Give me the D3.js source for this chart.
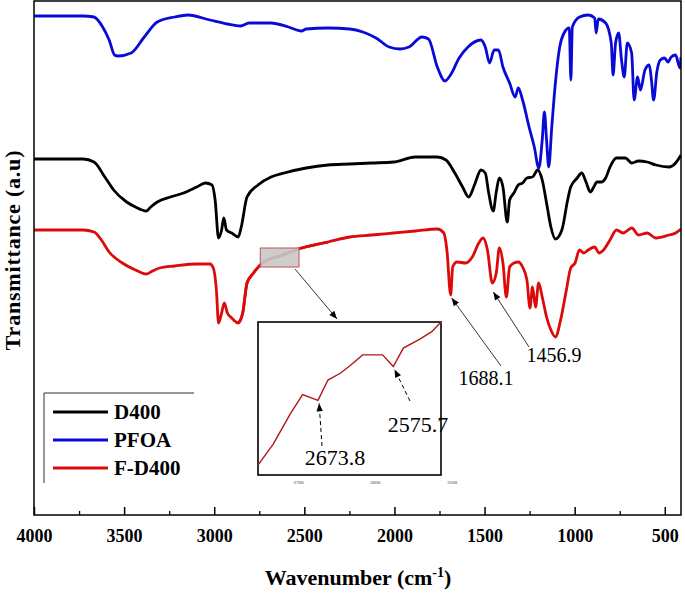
<!DOCTYPE html>
<html><head><meta charset="utf-8">
<script src="https://cdn.jsdelivr.net/npm/d3@7/dist/d3.min.js"></script>
<style>body{margin:0;background:#fff}svg{display:block}</style>
</head><body>
<svg id="c" width="685" height="593"></svg>
<script>
// ---- data (wavenumber cm-1, transmittance a.u., offset-stacked) ----
const seriesNames = ["D400", "PFOA", "F-D400"];
const seriesColors = ["#000000", "#0a0ad8", "#dd0a0a"];

const pfoa = [[4000,499],[3728,499],[3667,498],[3619,488],[3583,475],[3553,460],[3534,459],[3461,462],[3388,478],[3316,493],[3219,498],[3146,500],[3024,495],[2927,491],[2854,489],[2806,492],[2685,492],[2588,488],[2515,484],[2490,486],[2369,487],[2248,486],[2175,483],[2102,477],[2029,468],[1969,466],[1920,468],[1847,478],[1811,476],[1762,448],[1719,434],[1689,440],[1641,457],[1592,468],[1520,475],[1496,468],[1472,452],[1447,465],[1423,465],[1398,448],[1361,432],[1330,418],[1313,427],[1289,415],[1253,388],[1224,368],[1199,347],[1180,375],[1168,403],[1156,375],[1144,348],[1127,388],[1107,432],[1083,468],[1059,482],[1030,487],[1021,435],[1013,488],[973,498],[925,500],[889,497],[881,482],[869,496],[828,492],[797,472],[787,440],[773,472],[756,482],[740,455],[725,438],[708,472],[684,462],[670,415],[651,438],[635,425],[610,445],[586,450],[574,435],[562,415],[544,443],[525,455],[501,457],[482,453],[464,458],[440,460],[416,447],[410,458]];

const d400 = [[4000,356],[3728,356],[3667,353],[3607,338],[3558,325],[3486,313],[3437,308],[3376,304],[3352,308],[3316,313],[3243,318],[3170,322],[3097,328],[3049,332],[3012,330],[2995,315],[2976,277],[2959,285],[2947,297],[2932,285],[2903,282],[2867,278],[2850,288],[2818,318],[2757,330],[2685,338],[2612,342],[2490,347],[2369,350],[2248,351],[2126,352],[2005,353],[1884,358],[1762,358],[1714,355],[1665,342],[1622,328],[1588,318],[1556,330],[1520,345],[1496,342],[1477,322],[1452,304],[1435,323],[1418,337],[1398,328],[1374,293],[1361,315],[1337,322],[1313,330],[1289,332],[1265,337],[1234,338],[1205,345],[1180,335],[1156,312],[1132,288],[1107,276],[1071,285],[1039,315],[1022,328],[986,337],[961,342],[937,333],[913,323],[894,328],[876,333],[852,333],[828,337],[804,348],[768,357],[719,357],[683,352],[646,354],[598,353],[549,350],[476,348],[440,352],[410,360]];

const fd400 = [[4000,285],[3728,285],[3667,283],[3626,275],[3583,263],[3510,252],[3437,245],[3376,241],[3352,243],[3303,247],[3219,249],[3097,251],[3024,251],[3005,247],[2988,225],[2976,192],[2959,202],[2944,212],[2927,202],[2903,197],[2867,192],[2842,202],[2818,232],[2782,242],[2733,252],[2636,259],[2515,267],[2369,273],[2248,278],[2126,280],[2005,282],[1884,284],[1762,286],[1726,282],[1709,265],[1688,220],[1677,248],[1653,253],[1605,252],[1568,258],[1532,272],[1508,277],[1484,265],[1457,232],[1435,242],[1418,267],[1398,252],[1379,218],[1361,248],[1337,252],[1313,253],[1289,248],[1265,235],[1248,207],[1234,228],[1217,208],[1200,232],[1180,218],[1156,198],[1132,185],[1107,178],[1078,195],[1046,225],[1022,247],[998,252],[973,265],[949,262],[925,265],[889,268],[865,262],[840,265],[804,275],[768,285],[731,282],[683,287],[646,280],[598,282],[549,277],[476,280],[440,282],[410,286]];

const xTicks = [4000, 3500, 3000, 2500, 2000, 1500, 1000, 500];
const xMinorTicks = [3750, 3250, 2750, 2250, 1750, 1250, 750];

// inset (zoom of F-D400 between ~2750 and ~2515 cm-1)
const insetData = [[2752,5],[2732,27],[2710,58],[2694,78],[2674,72],[2661,93],[2645,100],[2632,108],[2616,119],[2590,119],[2576,107],[2563,126],[2542,135],[2526,143],[2514,153]];
const insetTicks = [2700, 2600, 2500];
const insetPeaks = [{label: "2673.8", wn: 2673.8, v: 72}, {label: "2575.7", wn: 2575.7, v: 107}];
const mainPeaks = [{label: "1688.1", wn: 1688.1, v: 220}, {label: "1456.9", wn: 1456.9, v: 232}];

// ---- drawing ----
const svg = d3.select("#c");
const m = {left: 34, right: 681, top: 1, bottom: 515};
const serif = "'Liberation Serif','Times New Roman',serif";

const x = d3.scaleLinear().domain([4000, 410]).range([m.left, m.right]);
const y = d3.scaleLinear().domain([0, 514]).range([m.bottom, m.top]);

const defs = svg.append("defs");
defs.append("marker").attr("id", "ah").attr("viewBox", "0 -5 10 10")
  .attr("refX", 10).attr("refY", 0).attr("markerWidth", 10).attr("markerHeight", 8)
  .attr("markerUnits", "userSpaceOnUse").attr("orient", "auto")
  .append("path").attr("d", "M0,-4L10,0L0,4Z").attr("fill", "#000");
defs.append("clipPath").attr("id", "clipMain").append("rect")
  .attr("x", m.left).attr("y", m.top).attr("width", m.right - m.left).attr("height", m.bottom - m.top);

const line = d3.line().x(d => x(d[0])).y(d => y(d[1])).curve(d3.curveMonotoneX);

const gPlot = svg.append("g").attr("clip-path", "url(#clipMain)");
const data = [d400, pfoa, fd400];
[1, 0, 2].forEach(i => {
  gPlot.append("path").datum(data[i]).attr("d", line)
    .attr("fill", "none").attr("stroke", seriesColors[i]).attr("stroke-width", 2.8)
    .attr("stroke-linejoin", "round");
});

// highlight rect on F-D400
const hx0 = 2750, hx1 = 2535;
svg.append("rect").attr("x", x(hx0) + 1).attr("y", 248).attr("width", x(hx1) - x(hx0)).attr("height", 19)
  .attr("fill", "#c8c8c8").attr("fill-opacity", 0.9).attr("stroke", "#c85050").attr("stroke-width", 1);
gPlot.append("path").datum(fd400.filter(d => d[0] <= 2900 && d[0] >= 2300)).attr("d", line)
  .attr("fill", "none").attr("stroke", seriesColors[2]).attr("stroke-width", 2.8);

// frame
svg.append("rect").attr("x", m.left).attr("y", m.top).attr("width", m.right - m.left)
  .attr("height", m.bottom - m.top).attr("fill", "none").attr("stroke", "#000").attr("stroke-width", 1.5);

// bottom axis
const xAxis = d3.axisBottom(x).tickValues(xTicks).tickFormat(d3.format("d"))
  .tickSizeInner(-8).tickSizeOuter(0).tickPadding(14);
const gx = svg.append("g").attr("transform", `translate(0,${m.bottom})`).call(xAxis);
gx.select(".domain").remove();
gx.selectAll(".tick line").attr("stroke", "#000").attr("stroke-width", 1.5);
gx.selectAll(".tick text").attr("font-family", serif).attr("font-weight", "bold")
  .attr("font-size", 18).attr("fill", "#000");
const gxm = svg.append("g").attr("transform", `translate(0,${m.bottom})`)
  .call(d3.axisBottom(x).tickValues(xMinorTicks).tickSizeInner(-4).tickSizeOuter(0).tickFormat(""));
gxm.select(".domain").remove();
gxm.selectAll(".tick line").attr("stroke", "#000").attr("stroke-width", 1.3);

// axis titles
const xt = svg.append("text").attr("x", 358).attr("y", 585).attr("text-anchor", "middle")
  .attr("font-family", serif).attr("font-weight", "bold").attr("font-size", 22).attr("fill", "#000");
xt.append("tspan").text("Wavenumber (cm");
xt.append("tspan").attr("dy", -8).attr("font-size", 14).text("-1");
xt.append("tspan").attr("dy", 8).text(")");

svg.append("text").attr("transform", "translate(20,250) rotate(-90)").attr("text-anchor", "middle")
  .attr("font-family", serif).attr("font-weight", "bold").attr("font-size", 22).attr("letter-spacing", 0.8)
  .attr("fill", "#000").text("Transmittance (a.u)");

// legend
const lg = svg.append("g");
lg.append("path").attr("d", "M44,483V393H194").attr("fill", "none").attr("stroke", "#333").attr("stroke-width", 1);
[0, 1, 2].forEach((si, k) => {
  const yy = 412 + k * 28;
  lg.append("line").attr("x1", 53).attr("x2", 108).attr("y1", yy).attr("y2", yy)
    .attr("stroke", seriesColors[si]).attr("stroke-width", 3);
  lg.append("text").attr("x", 114).attr("y", yy + 7).attr("font-family", serif).attr("font-weight", "bold")
    .attr("font-size", 21).attr("fill", "#000").text(seriesNames[si]);
});

// main peak annotations
const mainLabelPos = [[486, 385], [554, 362]];
const mainArrowStart = [[501, 366], [529, 347]];
mainPeaks.forEach((p, i) => {
  const [sx, sy] = mainArrowStart[i];
  svg.append("line").attr("x1", sx).attr("y1", sy).attr("x2", x(p.wn) + 1).attr("y2", y(p.v) + 3 + i * 6)
    .attr("stroke", "#000").attr("stroke-width", 0.8).attr("marker-end", "url(#ah)");
  svg.append("text").attr("x", mainLabelPos[i][0]).attr("y", mainLabelPos[i][1]).attr("text-anchor", "middle")
    .attr("font-family", serif).attr("font-size", 20).attr("fill", "#000").text(p.label);
});

// arrow from highlight to inset
svg.append("line").attr("x1", 295).attr("y1", 269).attr("x2", 337).attr("y2", 319)
  .attr("stroke", "#000").attr("stroke-width", 0.8).attr("marker-end", "url(#ah)");

// inset
const ib = {left: 258, right: 441, top: 322, bottom: 475};
const xi = d3.scaleLinear().domain([2752, 2514]).range([ib.left, ib.right]);
const yi = d3.scaleLinear().domain([0, 153]).range([ib.bottom - 5, ib.top]);
svg.append("rect").attr("x", ib.left).attr("y", ib.top).attr("width", ib.right - ib.left)
  .attr("height", ib.bottom - ib.top).attr("fill", "#fff").attr("stroke", "#000").attr("stroke-width", 1.6);
svg.append("path").datum(insetData)
  .attr("d", d3.line().x(d => xi(d[0])).y(d => yi(d[1])))
  .attr("fill", "none").attr("stroke", "#b01818").attr("stroke-width", 1.4);
const gi = svg.append("g").attr("transform", `translate(0,${ib.bottom})`)
  .call(d3.axisBottom(xi).tickValues(insetTicks).tickFormat(d3.format("d")).tickSizeInner(0).tickSizeOuter(0).tickPadding(5));
gi.select(".domain").remove();
gi.selectAll(".tick text").attr("font-family", serif).attr("font-size", 5).attr("fill", "#333");

const insetLabelPos = [[335, 465], [418, 432]];
const insetArrowStart = [[322, 446], [410, 401]];
insetPeaks.forEach((p, i) => {
  const [sx, sy] = insetArrowStart[i];
  svg.append("line").attr("x1", sx).attr("y1", sy).attr("x2", xi(p.wn) + 1).attr("y2", yi(p.v) + 3)
    .attr("stroke", "#000").attr("stroke-width", 1).attr("stroke-dasharray", "4,3").attr("marker-end", "url(#ah)");
  svg.append("text").attr("x", insetLabelPos[i][0]).attr("y", insetLabelPos[i][1]).attr("text-anchor", "middle")
    .attr("font-family", serif).attr("font-size", 22).attr("fill", "#000").text(p.label);
});
</script>
</body></html>
